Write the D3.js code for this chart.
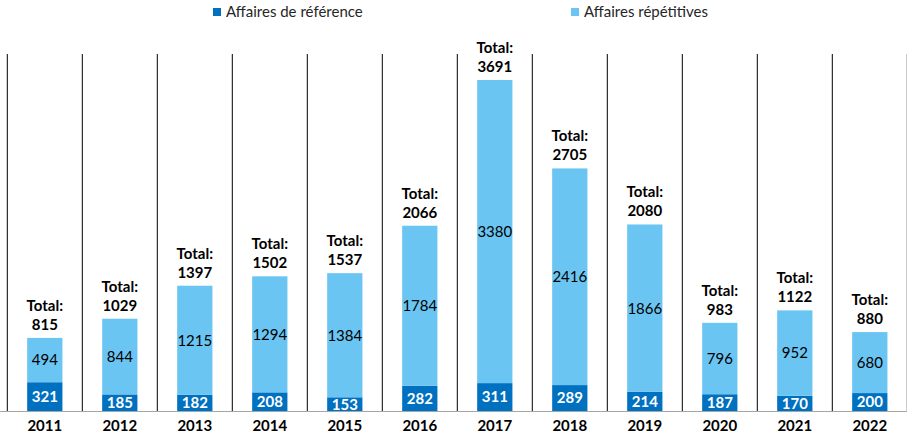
<!DOCTYPE html>
<html><head><meta charset="utf-8">
<script src="https://cdn.jsdelivr.net/npm/d3@7"></script>
<style>body{margin:0;background:#fff}svg{display:block;font-family:Lato,"Open Sans",sans-serif}</style>
</head><body><svg id="c" width="907" height="437"></svg>
<script>
const years = ["2011","2012","2013","2014","2015","2016","2017","2018","2019","2020","2021","2022"];
const reference = [321,185,182,208,153,282,311,289,214,187,170,200];
const repetitive = [494,844,1215,1294,1384,1784,3380,2416,1866,796,952,680];
const totals = [815,1029,1397,1502,1537,2066,3691,2705,2080,983,1122,880];
const seriesNames = ["Affaires de référence","Affaires répétitives"];
const colors = ["#0070C0","#6AC5F2"];

(function(){
const svg = d3.select("#c");
const left = 7.3, right = 907.3, base = 411, plotTop = 80;
const fs = 15;
const x = d3.scaleBand().domain(years).range([left, right]).paddingInner(0.53).paddingOuter(0.265);
const band = d3.scaleBand().domain(years).range([left, right]);
const y = d3.scaleLinear().domain([0, 3691]).range([base, plotTop]);

// separators
svg.append("g").selectAll("line").data(years.concat(["end"])).join("line")
  .attr("x1",(d,i)=>left+i*band.step()).attr("x2",(d,i)=>left+i*band.step())
  .attr("y1",54).attr("y2",base).attr("stroke","#000").attr("stroke-width",1);

const data = years.map((yr,i)=>({yr, a:reference[i], b:repetitive[i], t:totals[i]}));
const g = svg.append("g");
g.selectAll("rect.a").data(data).join("rect").attr("class","a")
  .attr("x",d=>x(d.yr)).attr("width",x.bandwidth())
  .attr("y",d=>y(d.a)).attr("height",d=>base-y(d.a)).attr("fill",colors[0]);
g.selectAll("rect.b").data(data).join("rect").attr("class","b")
  .attr("x",d=>x(d.yr)).attr("width",x.bandwidth())
  .attr("y",d=>y(d.a+d.b)).attr("height",d=>y(d.a)-y(d.a+d.b)).attr("fill",colors[1]);

// baseline
svg.append("line").attr("x1",0).attr("x2",907).attr("y1",base+0.5).attr("y2",base+0.5).attr("stroke","#a6a6a6").attr("stroke-width",1.2);

const cx = d=>x(d.yr)+x.bandwidth()/2;
g.selectAll("text.a").data(data).join("text").attr("class","a")
  .attr("x",cx).attr("y",d=>(base+y(d.a))/2).attr("dy","0.36em")
  .attr("text-anchor","middle").attr("font-size",fs).attr("font-weight","bold").attr("fill","#fff")
  .text(d=>d.a);
g.selectAll("text.b").data(data).join("text").attr("class","b")
  .attr("x",cx).attr("y",d=>(y(d.a)+y(d.a+d.b))/2).attr("dy","0.36em")
  .attr("text-anchor","middle").attr("font-size",fs).attr("fill","#000")
  .text(d=>d.b);
const tl = g.selectAll("g.t").data(data).join("g").attr("class","t");
tl.append("text").attr("x",cx).attr("y",d=>y(d.t)-27).attr("text-anchor","middle")
  .attr("font-size",fs).attr("font-weight","bold").text("Total:");
tl.append("text").attr("x",cx).attr("y",d=>y(d.t)-8).attr("text-anchor","middle")
  .attr("font-size",fs).attr("font-weight","bold").text(d=>d.t);

// x axis labels
const ax = svg.append("g").attr("transform",`translate(0,${base})`)
  .call(d3.axisBottom(band).tickSize(0).tickPadding(9));
ax.select(".domain").remove();
ax.selectAll("text").attr("font-size",fs).attr("font-weight","bold").attr("fill","#000").attr("font-family","Lato,sans-serif");

// legend
const lg = [{n:seriesNames[0],c:colors[0],x:213},{n:seriesNames[1],c:colors[1],x:571}];
const L = svg.append("g").selectAll("g").data(lg).join("g").attr("transform",d=>`translate(${d.x},8)`);
L.append("rect").attr("width",8).attr("height",8).attr("fill",d=>d.c);
L.append("text").attr("x",13).attr("y",4).attr("dy","0.36em").attr("font-size",fs).attr("fill","#262626").text(d=>d.n);
})();
</script></body></html>
